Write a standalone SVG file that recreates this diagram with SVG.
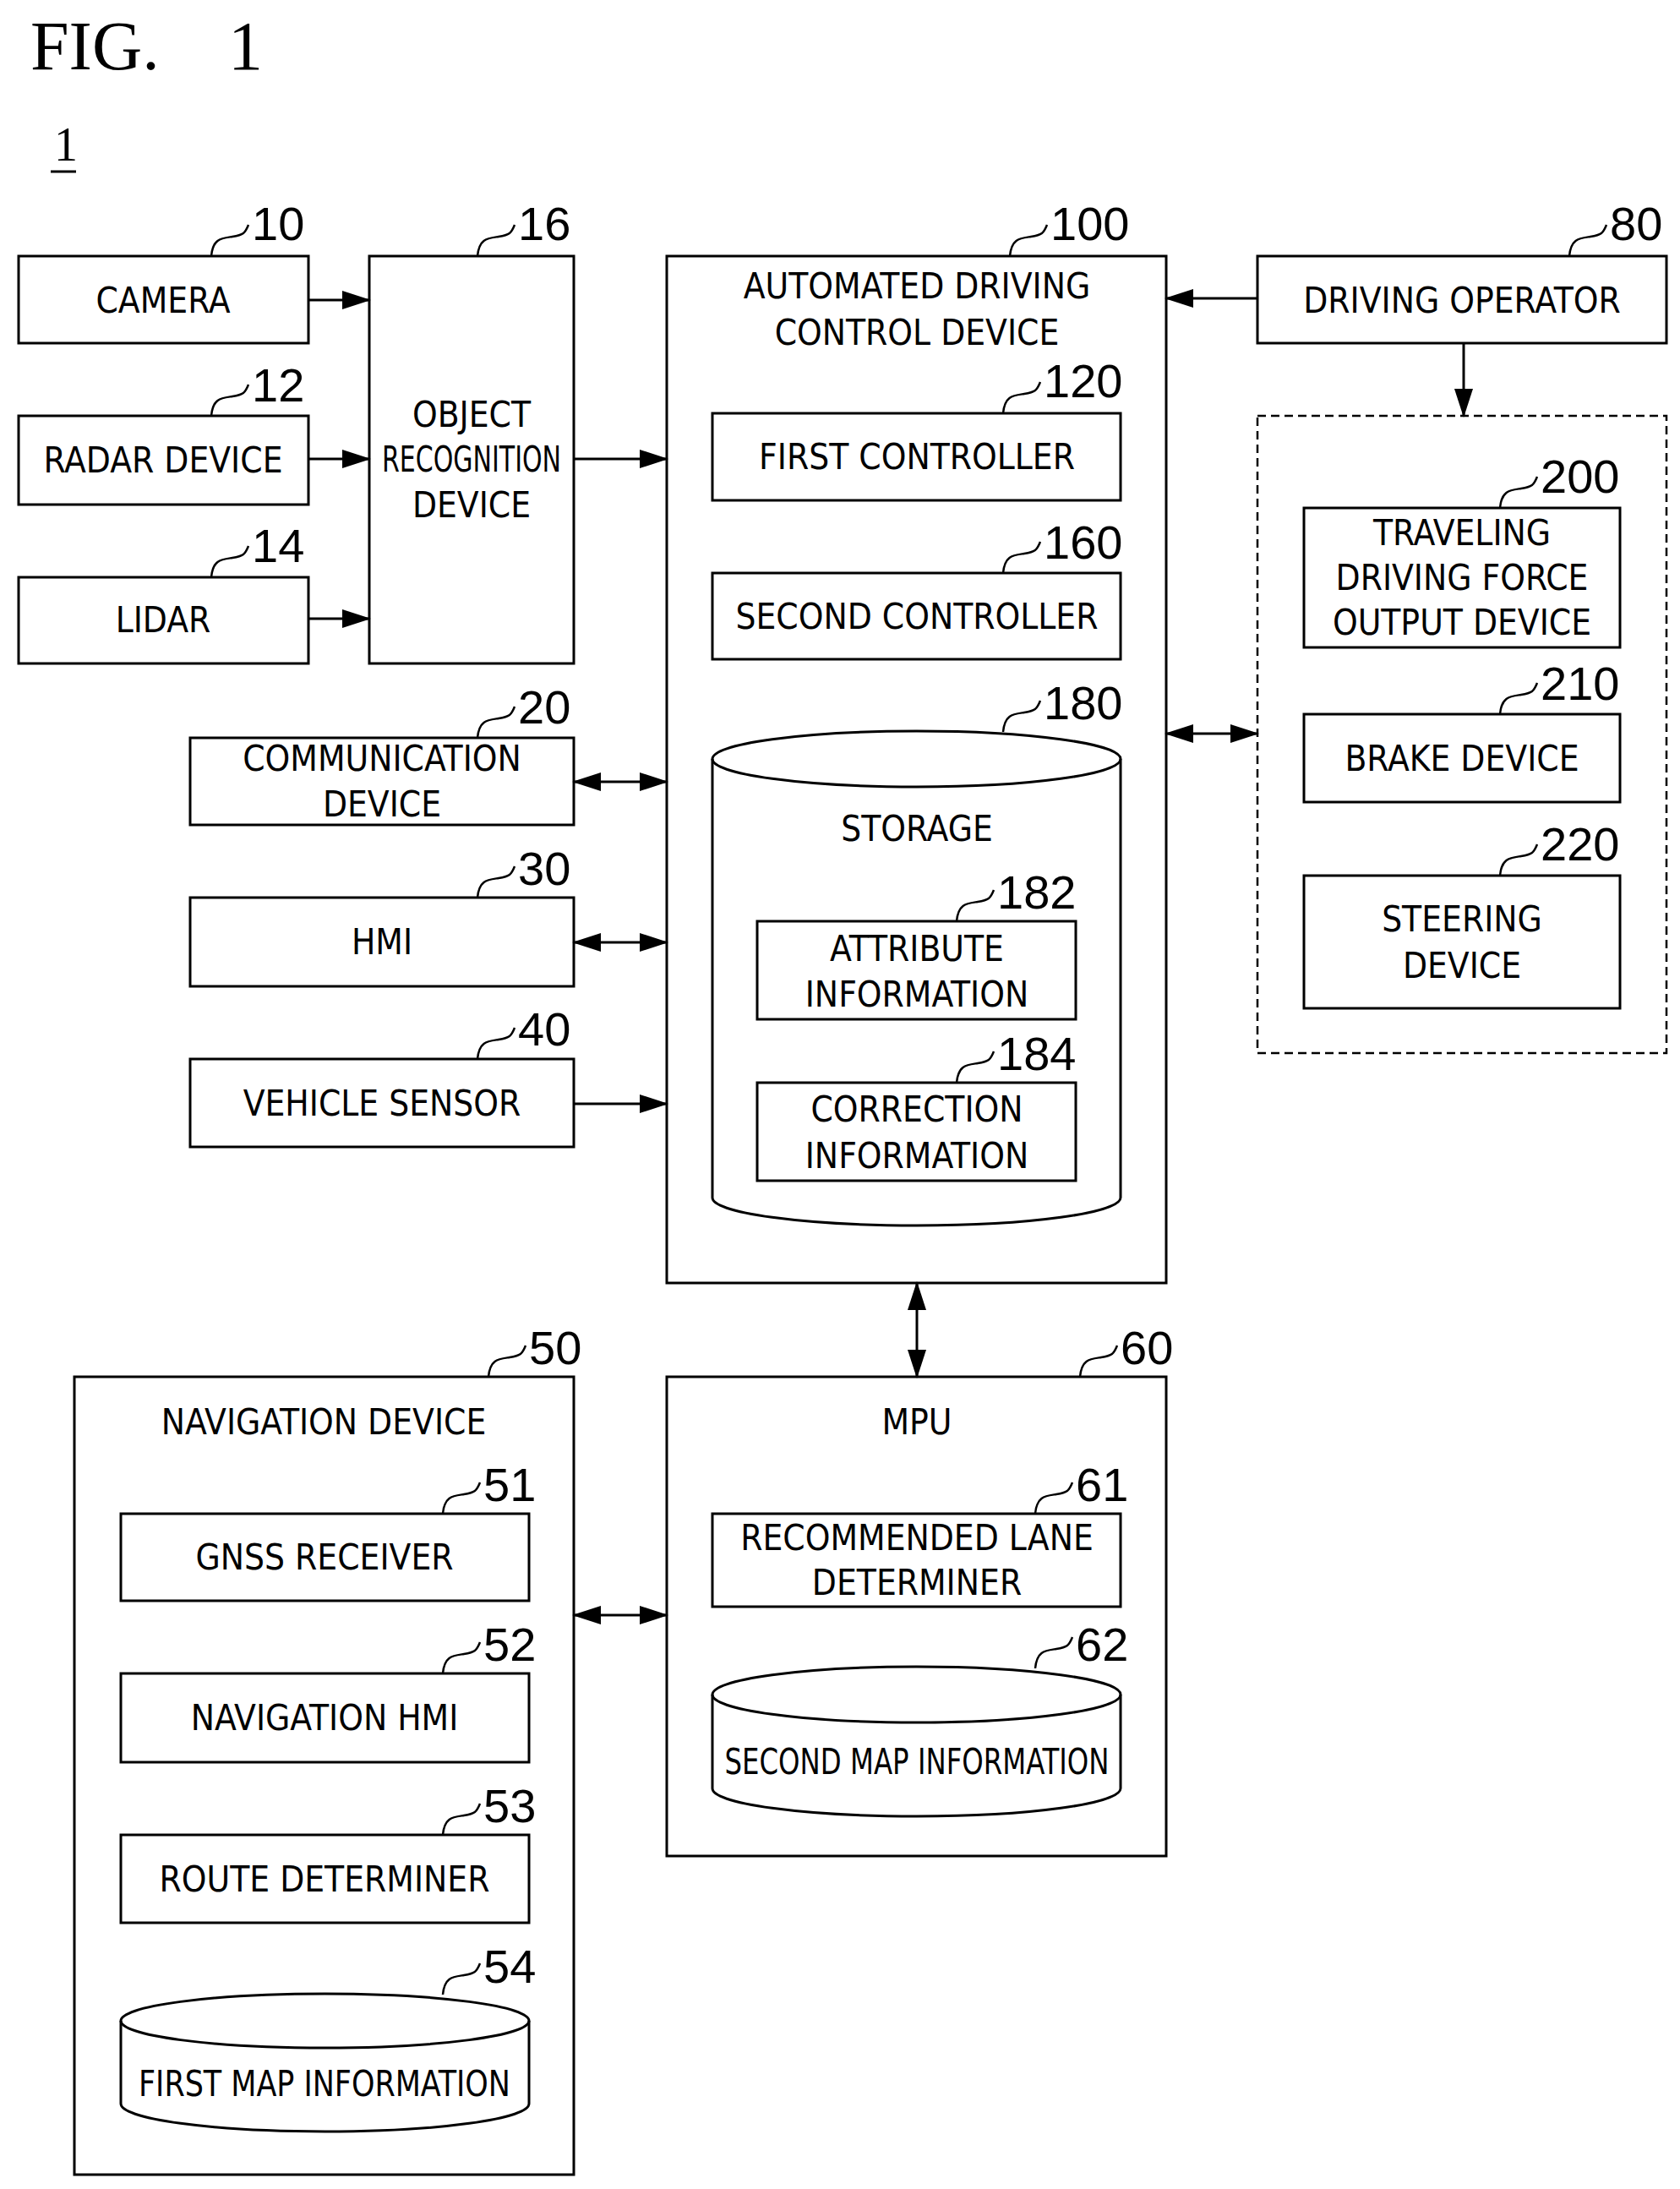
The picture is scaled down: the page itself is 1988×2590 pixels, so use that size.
<svg xmlns="http://www.w3.org/2000/svg" width="1988" height="2590" viewBox="0 0 1988 2590">
<style>
.b{fill:#fff;stroke:#000;stroke-width:3}
.d{fill:none;stroke:#000;stroke-width:2.5;stroke-dasharray:10 6}
.t{font-family:"DejaVu Sans Condensed","Liberation Sans",sans-serif;font-size:42px;text-anchor:middle;fill:#000}
.n{font-family:"Liberation Sans",sans-serif;font-size:56px;fill:#000}
.l{fill:none;stroke:#000;stroke-width:2.5}
.c{fill:none;stroke:#000;stroke-width:3}
</style>
<defs>
<marker id="a" markerUnits="userSpaceOnUse" markerWidth="34" markerHeight="22" refX="32" refY="11" orient="auto-start-reverse"><path d="M0,0 L34,11 L0,22 z" fill="#000"/></marker>
</defs>
<rect width="1988" height="2590" fill="#fff"/>
<text x="36" y="82" font-family="Liberation Serif,serif" font-size="82">FIG.</text>
<text x="270" y="82" font-family="Liberation Serif,serif" font-size="82">1</text>
<text x="64" y="190" font-family="Liberation Serif,serif" font-size="56">1</text>
<line x1="60" y1="203" x2="90" y2="203" stroke="#000" stroke-width="3"/>

<g id="camera"><rect class="b" x="22" y="303" width="343" height="103"/><text class="t" x="193" y="370">CAMERA</text></g>
<g id="radar"><rect class="b" x="22" y="492" width="343" height="105"/><text class="t" x="193" y="559">RADAR DEVICE</text></g>
<g id="lidar"><rect class="b" x="22" y="683" width="343" height="102"/><text class="t" x="193" y="748">LIDAR</text></g>
<g id="objrec"><rect class="b" x="437" y="303" width="242" height="482"/><text class="t" x="558" y="505">OBJECT</text><text class="t" x="558" y="558" textLength="212" lengthAdjust="spacingAndGlyphs">RECOGNITION</text><text class="t" x="558" y="612">DEVICE</text></g>
<g id="comm"><rect class="b" x="225" y="873" width="454" height="103"/><text class="t" x="452" y="912">COMMUNICATION</text><text class="t" x="452" y="966">DEVICE</text></g>
<g id="hmi"><rect class="b" x="225" y="1062" width="454" height="105"/><text class="t" x="452" y="1129">HMI</text></g>
<g id="vsensor"><rect class="b" x="225" y="1253" width="454" height="104"/><text class="t" x="452" y="1320">VEHICLE SENSOR</text></g>

<g id="adc"><rect class="b" x="789" y="303" width="591" height="1215"/><text class="t" x="1085" y="353">AUTOMATED DRIVING</text><text class="t" x="1085" y="408">CONTROL DEVICE</text></g>
<g id="first"><rect class="b" x="843" y="489" width="483" height="103"/><text class="t" x="1085" y="555">FIRST CONTROLLER</text></g>
<g id="second"><rect class="b" x="843" y="678" width="483" height="102"/><text class="t" x="1085" y="744">SECOND CONTROLLER</text></g>
<g id="storage"><path class="c" d="M843,898 L843,1417 A241.5,33 0 0 0 1326,1417 L1326,898" fill="#fff"/><ellipse class="c" cx="1084.5" cy="898" rx="241.5" ry="33" fill="#fff"/><text class="t" x="1085" y="995">STORAGE</text></g>
<g id="attr"><rect class="b" x="896" y="1090" width="377" height="116"/><text class="t" x="1085" y="1137">ATTRIBUTE</text><text class="t" x="1085" y="1191">INFORMATION</text></g>
<g id="corr"><rect class="b" x="896" y="1281" width="377" height="116"/><text class="t" x="1085" y="1327">CORRECTION</text><text class="t" x="1085" y="1382">INFORMATION</text></g>

<g id="dop"><rect class="b" x="1488" y="303" width="484" height="103"/><text class="t" x="1730" y="370">DRIVING OPERATOR</text></g>
<g id="group"><rect class="d" x="1488" y="492" width="484" height="754"/></g>
<g id="travel"><rect class="b" x="1543" y="601" width="374" height="165"/><text class="t" x="1730" y="645">TRAVELING</text><text class="t" x="1730" y="698">DRIVING FORCE</text><text class="t" x="1730" y="751">OUTPUT DEVICE</text></g>
<g id="brake"><rect class="b" x="1543" y="845" width="374" height="104"/><text class="t" x="1730" y="912">BRAKE DEVICE</text></g>
<g id="steer"><rect class="b" x="1543" y="1036" width="374" height="157"/><text class="t" x="1730" y="1102">STEERING</text><text class="t" x="1730" y="1157">DEVICE</text></g>

<g id="nav"><rect class="b" x="88" y="1629" width="591" height="944"/><text class="t" x="383" y="1697">NAVIGATION DEVICE</text></g>
<g id="gnss"><rect class="b" x="143" y="1791" width="483" height="103"/><text class="t" x="384" y="1857">GNSS RECEIVER</text></g>
<g id="navhmi"><rect class="b" x="143" y="1980" width="483" height="105"/><text class="t" x="384" y="2047">NAVIGATION HMI</text></g>
<g id="route"><rect class="b" x="143" y="2171" width="483" height="104"/><text class="t" x="384" y="2238">ROUTE DETERMINER</text></g>
<g id="map1"><path class="c" d="M143,2391 L143,2489 A241.5,33 0 0 0 626,2489 L626,2391" fill="#fff"/><ellipse class="c" cx="384.5" cy="2391" rx="241.5" ry="32" fill="#fff"/><text class="t" x="384" y="2480" textLength="440" lengthAdjust="spacingAndGlyphs">FIRST MAP INFORMATION</text></g>

<g id="mpu"><rect class="b" x="789" y="1629" width="591" height="567"/><text class="t" x="1085" y="1697">MPU</text></g>
<g id="reclane"><rect class="b" x="843" y="1791" width="483" height="110"/><text class="t" x="1085" y="1834">RECOMMENDED LANE</text><text class="t" x="1085" y="1887">DETERMINER</text></g>
<g id="map2"><path class="c" d="M843,2005 L843,2116 A241.5,33 0 0 0 1326,2116 L1326,2005" fill="#fff"/><ellipse class="c" cx="1084.5" cy="2005" rx="241.5" ry="33" fill="#fff"/><text class="t" x="1085" y="2099" textLength="455" lengthAdjust="spacingAndGlyphs">SECOND MAP INFORMATION</text></g>

<g id="labels">
<text class="n" x="298" y="284">10</text><text class="n" x="613" y="284">16</text><text class="n" x="1243" y="284">100</text><text class="n" x="1905" y="284">80</text>
<text class="n" x="298" y="475">12</text><text class="n" x="298" y="665">14</text>
<text class="n" x="613" y="856">20</text><text class="n" x="613" y="1047">30</text><text class="n" x="613" y="1237">40</text>
<text class="n" x="1235" y="470">120</text><text class="n" x="1235" y="661">160</text><text class="n" x="1235" y="851">180</text>
<text class="n" x="1180" y="1075">182</text><text class="n" x="1180" y="1266">184</text>
<text class="n" x="1823" y="583">200</text><text class="n" x="1823" y="828">210</text><text class="n" x="1823" y="1018">220</text>
<text class="n" x="626" y="1614">50</text><text class="n" x="1326" y="1614">60</text>
<text class="n" x="572" y="1776">51</text><text class="n" x="572" y="1965">52</text><text class="n" x="572" y="2156">53</text><text class="n" x="572" y="2346">54</text>
<text class="n" x="1273" y="1776">61</text><text class="n" x="1273" y="1965">62</text>
</g>
<g id="leaders" class="l">
<path class="l" d="M250,303 C252,282 262,282 275,280 S290,276 294,266"/>
<path class="l" d="M565,303 C567,282 577,282 590,280 S605,276 609,266"/>
<path class="l" d="M1195,303 C1197,282 1207,282 1220,280 S1235,276 1239,266"/>
<path class="l" d="M1857,303 C1859,282 1869,282 1882,280 S1897,276 1901,266"/>
<path class="l" d="M250,492 C252,471 262,471 275,469 S290,465 294,455"/>
<path class="l" d="M250,683 C252,662 262,662 275,660 S290,656 294,646"/>
<path class="l" d="M565,873 C567,852 577,852 590,850 S605,846 609,836"/>
<path class="l" d="M565,1062 C567,1041 577,1041 590,1039 S605,1035 609,1025"/>
<path class="l" d="M565,1253 C567,1232 577,1232 590,1230 S605,1226 609,1216"/>
<path class="l" d="M1187,489 C1189,468 1199,468 1212,466 S1227,462 1231,452"/>
<path class="l" d="M1187,678 C1189,657 1199,657 1212,655 S1227,651 1231,641"/>
<path class="l" d="M1187,866 C1189,845 1199,845 1212,843 S1227,839 1231,829"/>
<path class="l" d="M1132,1090 C1134,1069 1144,1069 1157,1067 S1172,1063 1176,1053"/>
<path class="l" d="M1132,1281 C1134,1260 1144,1260 1157,1258 S1172,1254 1176,1244"/>
<path class="l" d="M1775,601 C1777,580 1787,580 1800,578 S1815,574 1819,564"/>
<path class="l" d="M1775,845 C1777,824 1787,824 1800,822 S1815,818 1819,808"/>
<path class="l" d="M1775,1036 C1777,1015 1787,1015 1800,1013 S1815,1009 1819,999"/>
<path class="l" d="M578,1629 C580,1608 590,1608 603,1606 S618,1602 622,1592"/>
<path class="l" d="M1278,1629 C1280,1608 1290,1608 1303,1606 S1318,1602 1322,1592"/>
<path class="l" d="M524,1791 C526,1770 536,1770 549,1768 S564,1764 568,1754"/>
<path class="l" d="M524,1980 C526,1959 536,1959 549,1957 S564,1953 568,1943"/>
<path class="l" d="M524,2171 C526,2150 536,2150 549,2148 S564,2144 568,2134"/>
<path class="l" d="M524,2360 C526,2339 536,2339 549,2337 S564,2333 568,2323"/>
<path class="l" d="M1225,1791 C1227,1770 1237,1770 1250,1768 S1265,1764 1269,1754"/>
<path class="l" d="M1225,1974 C1227,1953 1237,1953 1250,1951 S1265,1947 1269,1937"/>
</g>
<g id="connectors" stroke="#000" stroke-width="3" fill="none">
<line x1="365" y1="355" x2="437" y2="355" marker-end="url(#a)"/>
<line x1="365" y1="543" x2="437" y2="543" marker-end="url(#a)"/>
<line x1="365" y1="732" x2="437" y2="732" marker-end="url(#a)"/>
<line x1="679" y1="543" x2="789" y2="543" marker-end="url(#a)"/>
<line x1="679" y1="925" x2="789" y2="925" marker-start="url(#a)" marker-end="url(#a)"/>
<line x1="679" y1="1115" x2="789" y2="1115" marker-start="url(#a)" marker-end="url(#a)"/>
<line x1="679" y1="1306" x2="789" y2="1306" marker-end="url(#a)"/>
<line x1="1488" y1="353" x2="1380" y2="353" marker-end="url(#a)"/>
<line x1="1732" y1="406" x2="1732" y2="492" marker-end="url(#a)"/>
<line x1="1380" y1="868" x2="1488" y2="868" marker-start="url(#a)" marker-end="url(#a)"/>
<line x1="1085" y1="1518" x2="1085" y2="1629" marker-start="url(#a)" marker-end="url(#a)"/>
<line x1="679" y1="1911" x2="789" y2="1911" marker-start="url(#a)" marker-end="url(#a)"/>
</g>
</svg>
